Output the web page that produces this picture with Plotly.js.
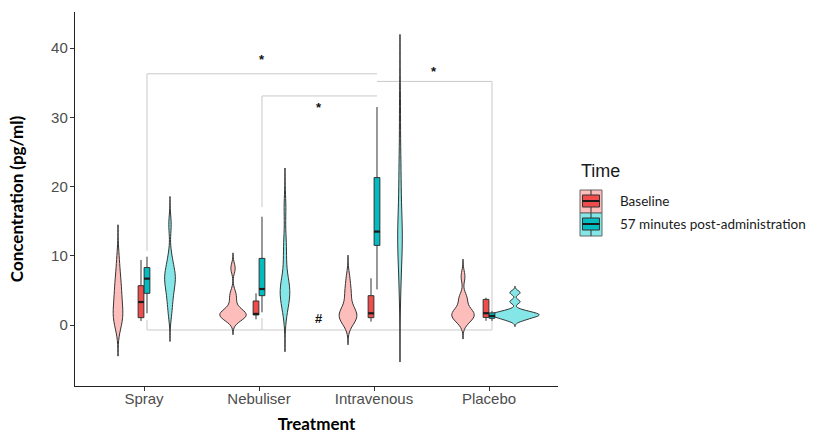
<!DOCTYPE html>
<html><head><meta charset="utf-8">
<script src="https://cdn.plot.ly/plotly-3.0.1.min.js"></script>
<style>html,body{margin:0;padding:0;background:#fff}#chart{width:817px;height:434px}</style>
</head><body><div id="chart"></div>
<script>
// ---------- data ----------
const treatments = ['Spray', 'Nebuliser', 'Intravenous', 'Placebo'];
const timeLabels = ['Baseline', '57 minutes post-administration'];
const yTicks = [0, 10, 20, 30, 40];

// individual concentrations (pg/ml) estimated from the violin shapes
const sprayBaseline   = [0.58, 0.9, 1.0, 1.4, 3.0, 3.6, 4.8, 5.9, 7.0, 9.4];
const nebBaseline     = [0.82, 1.1, 1.4, 1.5, 1.6, 1.7, 2.2, 3.5, 4.58, 8.2];
const ivBaseline      = [0.48, 0.9, 1.1, 1.3, 1.6, 1.8, 2.5, 4.2, 5.0, 6.75];
const placeboBaseline = [0.48, 0.9, 1.3, 1.5, 1.6, 1.8, 2.2, 3.7, 3.95, 7.0];
const sprayPost       = [1.69, 3.5, 4.6, 5.8, 6.5, 6.9, 7.5, 8.3, 9.87, 14.5];
const nebPost         = [1.83, 3.5, 4.3, 4.8, 5.0, 5.4, 6.5, 9.7, 12.0, 17.0];
const ivPost          = [5.15, 9.0, 11.5, 12.5, 13.2, 13.8, 17.0, 21.0, 24.0, 31.5];
const placeboPost     = [0.7, 1.0, 1.25, 1.4, 1.5, 1.6, 1.8, 2.1, 3.37, 4.67];

// box summaries
const baselineQ1     = [1.06, 1.45, 1.06, 1.1];
const baselineMedian = [3.32, 1.6, 1.69, 1.7];
const baselineQ3     = [5.68, 3.47, 4.24, 3.7];
const baselineLower  = [0.58, 0.82, 0.48, 0.6];
const baselineUpper  = [9.4, 4.58, 6.75, 3.95];
const postQ1         = [4.58, 4.24, 11.5, 0.97];
const postMedian     = [6.7, 5.2, 13.5, 1.3];
const postQ3         = [8.3, 9.63, 21.3, 1.75];
const postLower      = [1.69, 1.83, 5.15, 0.6];
const postUpper      = [9.87, 15.65, 31.5, 2.0];

// significance brackets
const bracketFrom   = ['Spray', 'Nebuliser', 'Intravenous', 'Spray'];
const bracketTo     = ['Intravenous', 'Intravenous', 'Placebo', 'Placebo'];
const bracketY      = [36.3, 33.1, 35.2, -0.72];
const bracketLabel  = ['*', '*', '*', '#'];
const bracketLabelY = [38.4, 31.5, 36.6, 0.9];
const tipGroup  = ['Spray', 'Spray', 'Nebuliser', 'Nebuliser', 'Placebo'];
const tipTop    = [36.3, 0.72, 33.1, 1.0, 35.2];
const tipBottom = [10.7, -0.72, 17.05, -0.72, -0.72];

// ---------- styling ----------
const violinFill = ['#FDBDBB', '#84E6E6'];
const boxFill = ['#F14C4C', '#00BDC2'];
const outline = '#333333';
const violinOffset = 0.226, boxOffset = 0.026, boxWidth = 0.05, maxViolinWidth = 0.42;

function q7(s, p) { const h = (s.length - 1) * p, lo = Math.floor(h); const hi = Math.min(lo + 1, s.length - 1); return s[lo] + (h - lo) * (s[hi] - s[lo]); }
function nrd0(v) {
  const s = [...v].sort((a, b) => a - b), n = s.length;
  const m = s.reduce((a, b) => a + b, 0) / n;
  const sd = Math.sqrt(s.reduce((a, b) => a + (b - m) ** 2, 0) / (n - 1));
  const iqr = q7(s, 0.75) - q7(s, 0.25);
  let lo = Math.min(sd, iqr / 1.34); if (!lo) lo = sd || 1;
  return 0.9 * lo * Math.pow(n, -0.2);
}
function kdePeak(vals, bw, lo, hi) {
  let best = 0;
  for (let k = 0; k <= 600; k++) {
    const t = lo + (hi - lo) * k / 600; let s = 0;
    for (const v of vals) s += Math.exp(-0.5 * ((t - v) / bw) ** 2);
    best = Math.max(best, s / (vals.length * bw * Math.sqrt(2 * Math.PI)));
  }
  return best;
}

const samples = [[sprayBaseline, nebBaseline, ivBaseline, placeboBaseline],
                 [sprayPost, nebPost, ivPost, placeboPost]];
const boxStats = [
  {q1: baselineQ1, median: baselineMedian, q3: baselineQ3, lowerfence: baselineLower, upperfence: baselineUpper},
  {q1: postQ1, median: postMedian, q3: postQ3, lowerfence: postLower, upperfence: postUpper}];

// density estimate per violin (ggplot-like: nrd0 bandwidth, cut = 3, area scaling)
const dens = samples.map(group => group.map(vals => {
  const bw = nrd0(vals), mn = Math.min(...vals), mx = Math.max(...vals);
  const span = [mn - 3 * bw, mx + 3 * bw];
  return {bw, span, peak: kdePeak(vals, bw, span[0], span[1])};
}));
const globalPeak = Math.max(...dens.flat().map(d => d.peak));

const traces = [];
samples.forEach((group, t) => group.forEach((vals, i) => {
  const d = dens[t][i];
  const pos = i + (t ? violinOffset : -violinOffset);
  traces.push({
    type: 'violin', x: vals.map(() => pos), y: vals, name: timeLabels[t] + ' ' + treatments[i],
    bandwidth: d.bw, spanmode: 'manual', span: d.span,
    scalegroup: 'v' + t + '_' + i, scalemode: 'width', width: maxViolinWidth * d.peak / globalPeak,
    fillcolor: violinFill[t], line: {color: outline, width: 1},
    points: false, box: {visible: false}, meanline: {visible: false},
    showlegend: false, hoverinfo: 'skip'
  });
}));
boxStats.forEach((st, t) => {
  const xs = treatments.map((_, i) => i + (t ? boxOffset : -boxOffset));
  traces.push(Object.assign({
    type: 'box', orientation: 'v', x: xs, width: boxWidth, name: timeLabels[t],
    fillcolor: boxFill[t], line: {color: outline, width: 1}, whiskerwidth: 0,
    boxpoints: false, showlegend: false, hoverinfo: 'skip'
  }, st));
  const mx = [], my = [];
  xs.forEach((x, i) => { mx.push(x - boxWidth / 2, x + boxWidth / 2, null); my.push(st.median[i], st.median[i], null); });
  traces.push({type: 'scatter', mode: 'lines', x: mx, y: my, line: {color: '#1a1a1a', width: 2.2}, showlegend: false, hoverinfo: 'skip'});
});

const catPos = name => treatments.indexOf(name) + boxOffset;
const shapes = [];
const annotations = [];
const bracketLine = {color: '#C9C9C9', width: 1};
bracketFrom.forEach((f, k) => {
  const x0 = catPos(f), x1 = catPos(bracketTo[k]);
  shapes.push({type: 'line', xref: 'x', yref: 'y', x0, x1, y0: bracketY[k], y1: bracketY[k], line: bracketLine, layer: 'below'});
  annotations.push({xref: 'x', yref: 'y', x: (x0 + x1) / 2, y: bracketLabelY[k], text: '<b>' + bracketLabel[k] + '</b>', showarrow: false,
    font: {family: 'Liberation Sans', size: 13, color: '#111'}, xanchor: 'center', yanchor: 'middle'});
});
tipGroup.forEach((g, k) => shapes.push({type: 'line', xref: 'x', yref: 'y', x0: catPos(g), x1: catPos(g), y0: tipTop[k], y1: tipBottom[k], line: bracketLine, layer: 'below'}));

// manual legend (ggplot-style combined key)
const M = {l: 75, t: 12, w: 483, h: 374};
const px = v => (v - M.l) / M.w, py = v => (M.t + M.h - v) / M.h;
annotations.push({xref: 'paper', yref: 'paper', x: px(579), y: py(171), xanchor: 'left', yanchor: 'middle', showarrow: false,
  text: 'Time', font: {family: 'Liberation Sans', size: 18, color: '#1a1a1a'}});
timeLabels.forEach((lab, t) => {
  const top = 190 + t * 23;
  shapes.push({type: 'rect', xref: 'paper', yref: 'paper', x0: px(580), x1: px(602), y0: py(top), y1: py(top + 23), fillcolor: violinFill[t], line: {color: '#666', width: 1}, layer: 'above'});
  shapes.push({type: 'line', xref: 'paper', yref: 'paper', x0: px(591), x1: px(591), y0: py(top), y1: py(top + 23), line: {color: outline, width: 1}, layer: 'above'});
  shapes.push({type: 'rect', xref: 'paper', yref: 'paper', x0: px(582.5), x1: px(599.5), y0: py(top + 5), y1: py(top + 17), fillcolor: boxFill[t], line: {color: outline, width: 1}, layer: 'above'});
  shapes.push({type: 'line', xref: 'paper', yref: 'paper', x0: px(582.5), x1: px(599.5), y0: py(top + 11), y1: py(top + 11), line: {color: '#1a1a1a', width: 2}, layer: 'above'});
  annotations.push({xref: 'paper', yref: 'paper', x: px(618), y: py(top + 11), xanchor: 'left', yanchor: 'middle', showarrow: false,
    text: lab, font: {family: 'Lato', size: 13.5, color: '#1a1a1a'}});
});

const axisCommon = {showline: true, linecolor: '#222', linewidth: 1.2, ticks: 'outside', ticklen: 4, tickcolor: '#333', tickwidth: 1,
  showgrid: false, zeroline: false, tickfont: {family: 'Liberation Sans', size: 15, color: '#4D4D4D'}};
const layout = {
  width: 817, height: 434, margin: {l: M.l, r: 817 - M.l - M.w, t: M.t, b: 434 - M.t - M.h},
  paper_bgcolor: '#fff', plot_bgcolor: '#fff', showlegend: false,
  violinmode: 'overlay', boxmode: 'overlay',
  xaxis: Object.assign({}, axisCommon, {range: [-0.6, 3.6], tickmode: 'array', tickvals: treatments.map((_, i) => i), ticktext: treatments,
    ticklabelstandoff: -5,
    title: {text: '<b>Treatment</b>', font: {family: 'Lato', size: 17, color: '#000'}, standoff: 15}}),
  yaxis: Object.assign({}, axisCommon, {range: [-8.815, 45.23], tickmode: 'array', tickvals: yTicks, ticktext: yTicks.map(String),
    ticklabelstandoff: -1,
    title: {text: '<b>Concentration (pg/ml)</b>', font: {family: 'Lato', size: 17, color: '#000'}, standoff: 23}}),
  shapes, annotations
};
Plotly.newPlot('chart', traces, layout, {staticPlot: true, displayModeBar: false});
</script></body></html>
